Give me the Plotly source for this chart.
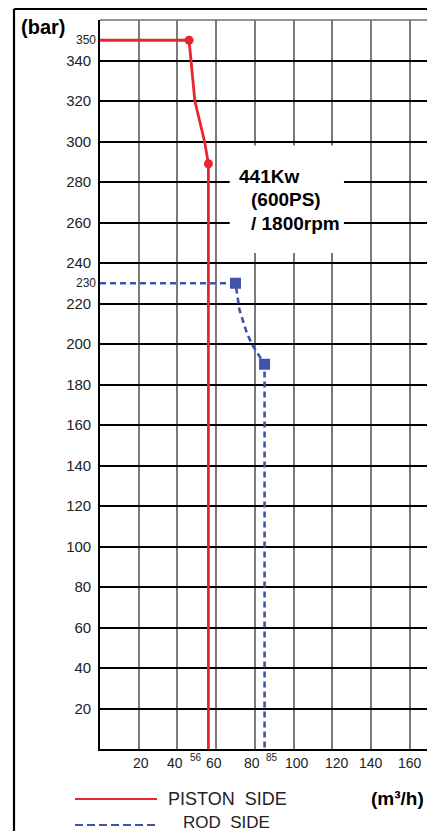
import plotly.graph_objects as go

# ---- data ----
PISTON_FLOW = [0, 46, 49, 51, 54, 56, 56]
PISTON_PRESS = [350, 350, 320, 312, 300, 289, 0]
PISTON_MARK_IDX = [1, 5]

ROD_FLOW = [0, 70, 72, 76, 79, 85, 85]
ROD_PRESS = [230, 230, 217, 205, 199, 190, 0]
ROD_MARK_IDX = [1, 5]

Y_TICKS = list(range(20, 341, 20))
X_TICKS = [20, 40, 60, 80, 100, 120, 140, 160]
X_TICK_TEXT = ["20", "40", "60", "80", "100", "120", "140", "160"]
X_TICK_SHIFT = [2, -2, -2, -3, 3, 5, 0, 0]
SPECIAL_Y = [350, 230]
SPECIAL_X = [56, 85]
SPECIAL_X_SHIFT = [-12, 7]

RED = "#e8262d"
BLUE = "#4152ae"
FONT = "Liberation Sans"

fig = go.Figure()

fig.add_trace(go.Scatter(x=PISTON_FLOW, y=PISTON_PRESS, mode="lines",
                         line=dict(color=RED, width=2.8), hoverinfo="skip"))
fig.add_trace(go.Scatter(x=[PISTON_FLOW[i] for i in PISTON_MARK_IDX],
                         y=[PISTON_PRESS[i] for i in PISTON_MARK_IDX], mode="markers",
                         marker=dict(color=RED, size=9, symbol="circle"), hoverinfo="skip"))
fig.add_trace(go.Scatter(x=ROD_FLOW, y=ROD_PRESS, mode="lines",
                         line=dict(color=BLUE, width=2.6, dash="6px,4px"), hoverinfo="skip"))
fig.add_trace(go.Scatter(x=[ROD_FLOW[i] for i in ROD_MARK_IDX],
                         y=[ROD_PRESS[i] for i in ROD_MARK_IDX], mode="markers",
                         marker=dict(color=BLUE, size=11, symbol="square"), hoverinfo="skip"))

# page has an 8px body margin; the figure is sized to fit inside the window
W, H = 427, 823
L, R, T, B = 92, 2, 12, 82
# plot area in page pixels: x 100..433, y 20..749
PL, PR, PT, PB = 100, 433, 20, 749


def px(xp):
    return (xp - PL) / (PR - PL)


def py(yp):
    return (PB - yp) / (PB - PT)


shapes = []
# outer frame
shapes.append(dict(type="line", xref="paper", yref="paper", x0=px(14), x1=px(445), y0=py(9), y1=py(9),
                   line=dict(color="black", width=2.2)))
shapes.append(dict(type="line", xref="paper", yref="paper", x0=px(14), x1=px(14), y0=py(9), y1=py(860),
                   line=dict(color="black", width=2.2)))
# plot top/right border
shapes.append(dict(type="line", xref="paper", yref="paper", x0=0, x1=1, y0=1, y1=1,
                   line=dict(color="#707070", width=1.6)))
shapes.append(dict(type="line", xref="paper", yref="paper", x0=1, x1=1, y0=0, y1=1,
                   line=dict(color="#707070", width=1.8)))
# white box behind rating text
shapes.append(dict(type="rect", xref="x", yref="y", x0=67, x1=126, y0=245, y1=298,
                   fillcolor="white", line=dict(width=0), layer="above"))
# legend samples
shapes.append(dict(type="line", xref="paper", yref="paper", x0=px(75), x1=px(157), y0=py(799), y1=py(799),
                   line=dict(color=RED, width=2)))
shapes.append(dict(type="line", xref="paper", yref="paper", x0=px(75), x1=px(157), y0=py(825), y1=py(825),
                   line=dict(color=BLUE, width=2, dash="8px,4px")))

ann = []
tickfont = dict(family=FONT, size=14, color="#222")
for v, t, s in zip(X_TICKS, X_TICK_TEXT, X_TICK_SHIFT):
    ann.append(dict(x=v, y=0, xref="x", yref="paper", text=t, showarrow=False, xanchor="center",
                    yanchor="middle", yshift=-14, xshift=s, font=tickfont))
for v, s in zip(SPECIAL_X, SPECIAL_X_SHIFT):
    ann.append(dict(x=v, y=0, xref="x", yref="paper", text=str(v), showarrow=False, xanchor="center",
                    yanchor="middle", yshift=-8, xshift=s, font=dict(family=FONT, size=10, color="#222")))
for v in SPECIAL_Y:
    ann.append(dict(x=px(98), y=v, xref="paper", yref="y", text=str(v), showarrow=False, xanchor="right",
                    yanchor="middle", font=dict(family=FONT, size=12, color="#222")))

boldfont = dict(family=FONT, size=19, color="black")
ann.append(dict(x=px(237), y=py(176), xref="paper", yref="paper", text="<b>441Kw</b>", showarrow=False,
                xanchor="left", yanchor="middle", font=boldfont))
ann.append(dict(x=px(249), y=py(199), xref="paper", yref="paper", text="<b>(600PS)</b>", showarrow=False,
                xanchor="left", yanchor="middle", font=boldfont))
ann.append(dict(x=px(249), y=py(224), xref="paper", yref="paper", text="<b>/ 1800rpm</b>", showarrow=False,
                xanchor="left", yanchor="middle", font=boldfont))

ann.append(dict(x=px(19), y=py(27), xref="paper", yref="paper", text="<b>(bar)</b>", showarrow=False,
                xanchor="left", yanchor="middle", font=dict(family=FONT, size=20, color="black")))
ann.append(dict(x=px(426), y=py(798), xref="paper", yref="paper", text="<b>(m³/h)</b>", showarrow=False,
                xanchor="right", yanchor="middle", font=dict(family=FONT, size=19, color="black")))
legfont = dict(family=FONT, size=18, color="#222")
ann.append(dict(x=px(166), y=py(799), xref="paper", yref="paper", text="PISTON&nbsp; SIDE", showarrow=False,
                xanchor="left", yanchor="middle", font=legfont))
ann.append(dict(x=px(181), y=py(823), xref="paper", yref="paper", text="ROD&nbsp; SIDE", showarrow=False,
                xanchor="left", yanchor="middle", font=dict(family=FONT, size=17, color="#222")))

fig.update_layout(
    width=W, height=H, margin=dict(l=L, r=R, t=T, b=B),
    paper_bgcolor="white", plot_bgcolor="white", showlegend=False,
    shapes=shapes, annotations=ann,
    xaxis=dict(range=[0, 172], tickvals=X_TICKS, showticklabels=False, showgrid=True,
               gridcolor="#7a7a7a", gridwidth=1.8, zeroline=False, showline=True,
               linecolor="black", linewidth=2, ticks=""),
    yaxis=dict(range=[0, 360], tickvals=Y_TICKS, ticktext=[str(v) for v in Y_TICKS],
               showgrid=True, gridcolor="black", gridwidth=2, zeroline=False, showline=True,
               linecolor="black", linewidth=1.6, ticks="", ticklabelstandoff=4,
               tickfont=dict(family=FONT, size=15, color="#222")),
)

fig.write_html("out.html")
